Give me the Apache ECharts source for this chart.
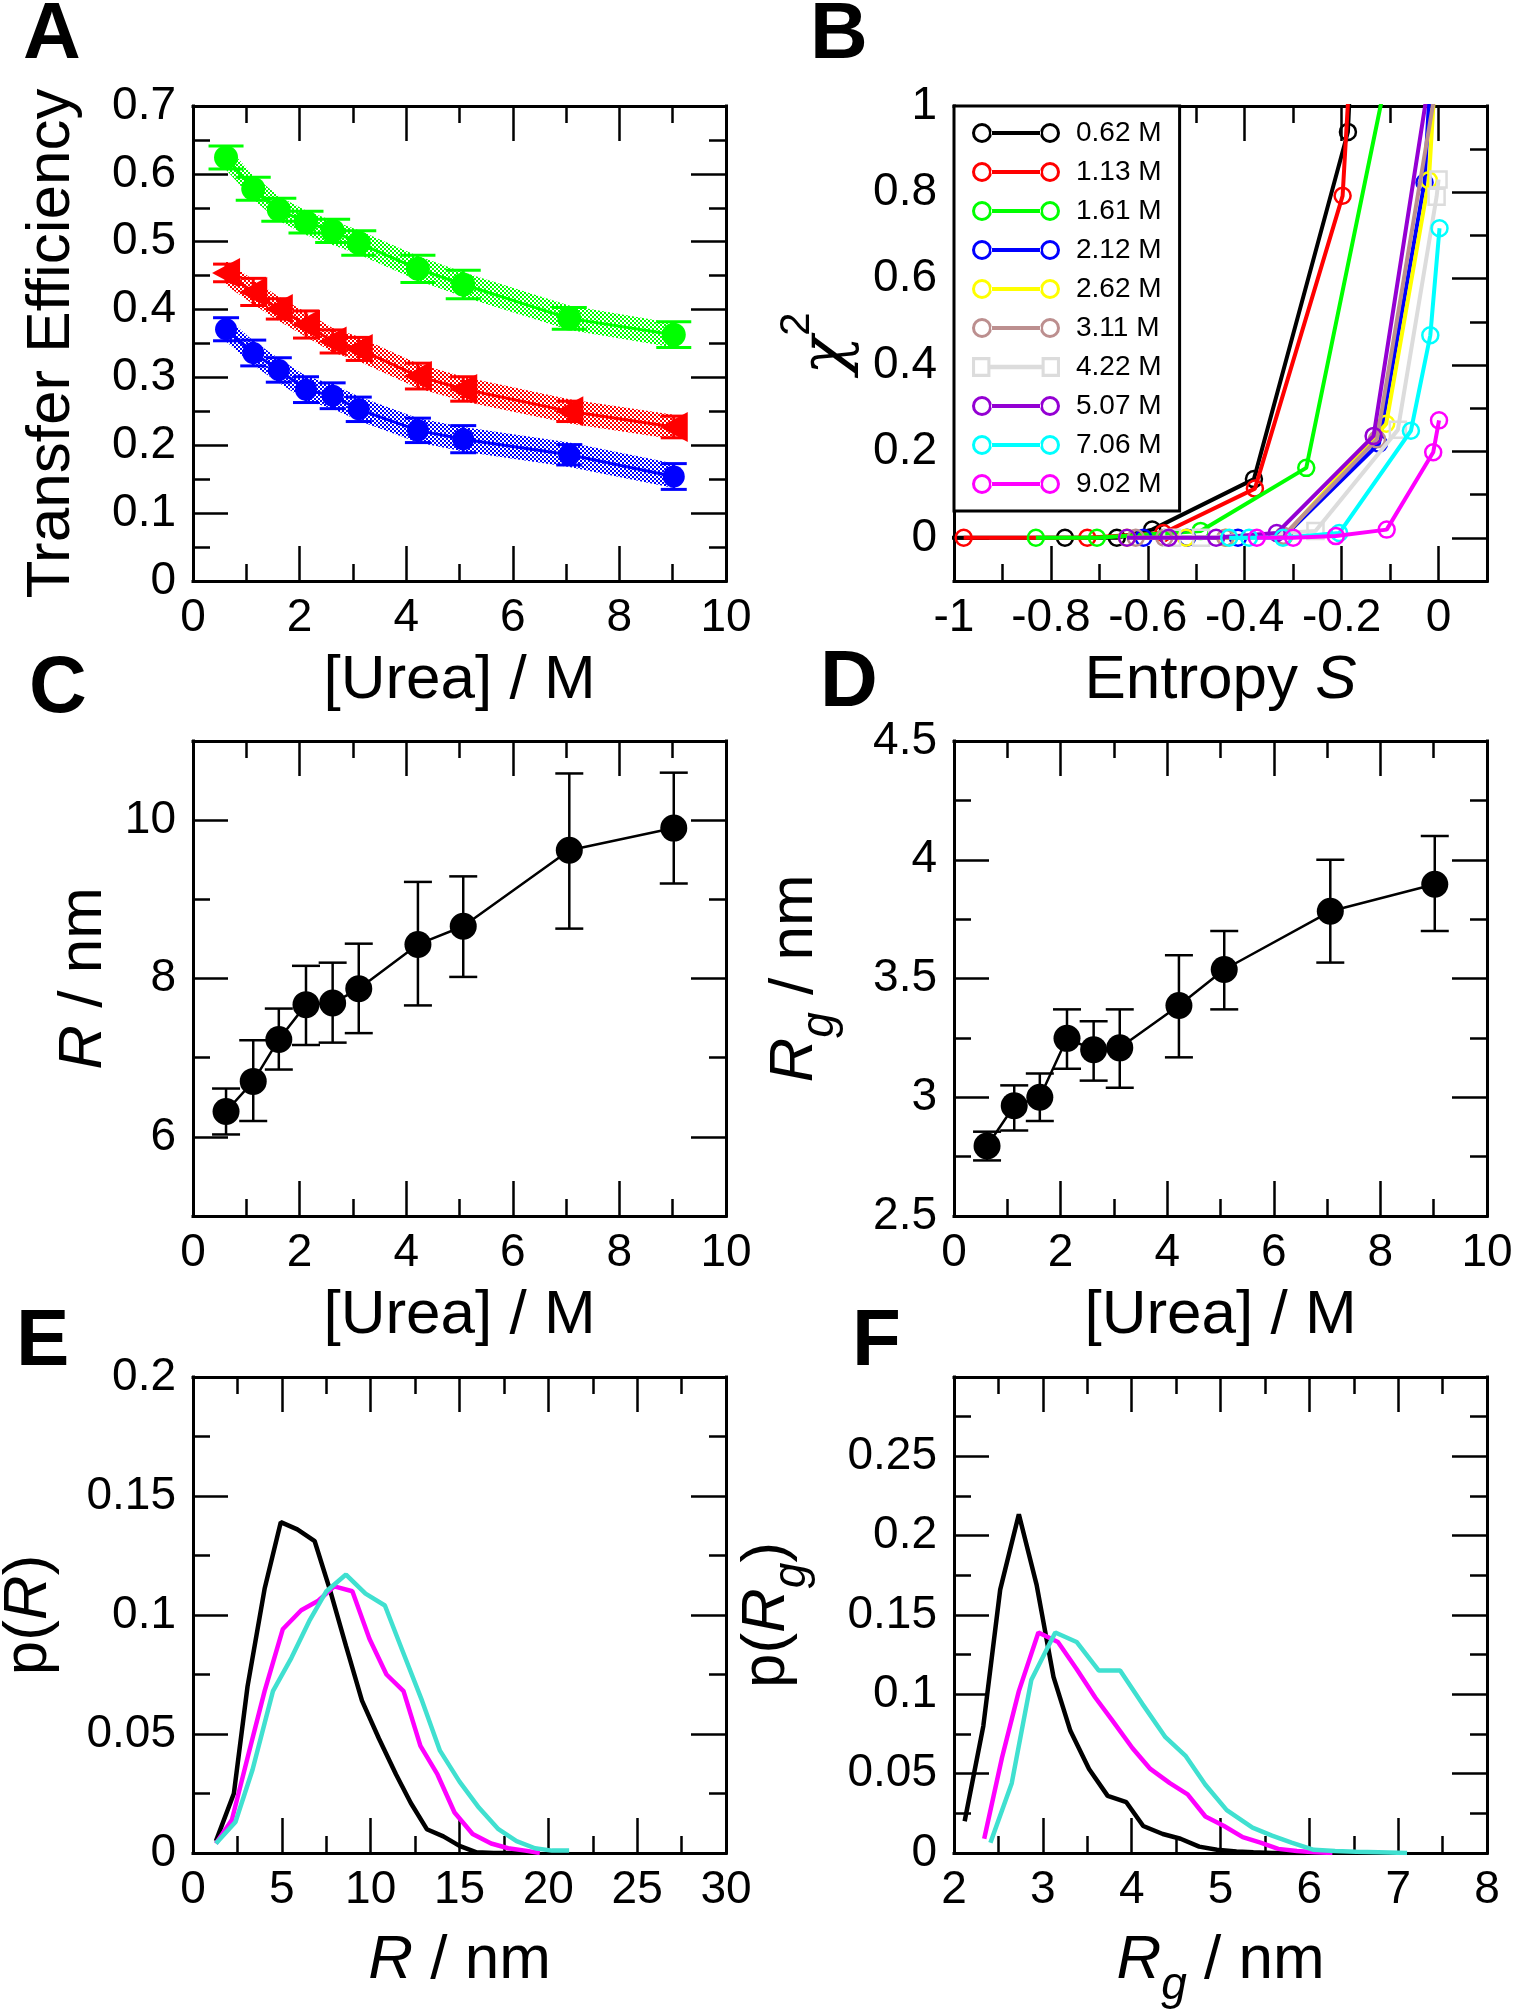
<!DOCTYPE html>
<html><head><meta charset="utf-8">
<script src="https://cdn.jsdelivr.net/npm/echarts@6.0.0/dist/echarts.min.js"></script>
<style>html,body{margin:0;padding:0;background:#fff}#c{width:1513px;height:2010px}</style>
</head><body><div id="c"></div>
<script>
// ---------------- DATA ----------------
const urea = [0.62, 1.13, 1.61, 2.12, 2.62, 3.11, 4.22, 5.07, 7.06, 9.02];

// Panel A: transfer efficiency
const aGreen    = [0.624, 0.578, 0.547, 0.529, 0.516, 0.498, 0.460, 0.437, 0.387, 0.363];
const aGreenErr = [0.017, 0.017, 0.017, 0.016, 0.017, 0.018, 0.020, 0.021, 0.016, 0.019];
const aGreenHi  = [0.642, 0.598, 0.567, 0.546, 0.531, 0.517, 0.479, 0.455, 0.406, 0.380];
const aGreenLo  = [0.606, 0.562, 0.531, 0.510, 0.495, 0.481, 0.443, 0.419, 0.370, 0.344];
const aRed      = [0.454, 0.426, 0.401, 0.378, 0.353, 0.342, 0.302, 0.283, 0.250, 0.227];
const aRedErr   = [0.013, 0.020, 0.015, 0.020, 0.017, 0.017, 0.019, 0.018, 0.015, 0.016];
const aRedHi    = [0.472, 0.444, 0.419, 0.396, 0.373, 0.360, 0.320, 0.301, 0.268, 0.245];
const aRedLo    = [0.436, 0.408, 0.383, 0.360, 0.337, 0.324, 0.284, 0.265, 0.232, 0.209];
const aBlue     = [0.371, 0.336, 0.311, 0.282, 0.273, 0.253, 0.222, 0.209, 0.186, 0.154];
const aBlueErr  = [0.017, 0.019, 0.018, 0.019, 0.019, 0.018, 0.018, 0.020, 0.015, 0.019];
const aBlueHi   = [0.389, 0.354, 0.328, 0.302, 0.290, 0.272, 0.240, 0.227, 0.204, 0.173];
const aBlueLo   = [0.353, 0.318, 0.292, 0.266, 0.254, 0.236, 0.204, 0.191, 0.168, 0.137];

// Panel B: chi^2 vs entropy S
const bNames  = ['0.62 M','1.13 M','1.61 M','2.12 M','2.62 M','3.11 M','4.22 M','5.07 M','7.06 M','9.02 M'];
const bColors = ['#000000','#ff0000','#00ff00','#0000ff','#ffff00','#bc8f8f','#dcdcdc','#9400d3','#00ffff','#ff00ff'];
const b062S = [-1.02, -0.771, -0.664, -0.591, -0.381, -0.187, -0.166];
const b062C = [0, 0, 0, 0.019, 0.136, 0.94, 1.45];
const b113S = [-0.98, -0.725, -0.568, -0.379, -0.198, -0.172];
const b113C = [0, 0, 0.011, 0.114, 0.792, 1.3];
const b161S = [-0.831, -0.705, -0.491, -0.273, -0.03];
const b161C = [0, 0, 0.016, 0.162, 1.49];
const b212S = [-0.609, -0.519, -0.414, -0.319, -0.123, -0.029, 0.0];
const b212C = [0, 0, 0, 0.003, 0.218, 0.823, 1.4];
const b262S = [-0.643, -0.521, -0.439, -0.32, -0.108, -0.02, 0.0];
const b262C = [0, 0, 0, 0.002, 0.264, 0.828, 1.2];
const b311S = [-0.625, -0.566, -0.44, -0.32, -0.127, 0.0];
const b311C = [0, 0, 0, 0.005, 0.228, 1.08];
const b422S = [-0.55, -0.49, -0.254, -0.084, -0.004, 0.0];
const b422C = [0, 0, 0.016, 0.25, 0.79, 0.83];
const b507S = [-0.643, -0.557, -0.459, -0.334, -0.134, 0.0];
const b507C = [0, 0, 0, 0.011, 0.236, 1.2];
const b706S = [-0.432, -0.391, -0.321, -0.205, -0.057, -0.017, 0.002];
const b706C = [0, 0, 0, 0.011, 0.248, 0.469, 0.717];
const b902S = [-0.375, -0.30, -0.212, -0.107, -0.011, 0.001];
const b902C = [0, 0, 0.004, 0.019, 0.198, 0.272];

// Panel C: R
const cR   = [6.32, 6.70, 7.23, 7.67, 7.69, 7.87, 8.43, 8.66, 9.62, 9.90];
const cRHi = [6.61, 7.22, 7.62, 8.16, 8.20, 8.44, 9.22, 9.29, 10.59, 10.60];
const cRLo = [6.03, 6.20, 6.85, 7.16, 7.19, 7.31, 7.66, 8.02, 8.63, 9.20];

// Panel D: Rg
const dRg   = [2.795, 2.964, 3.00, 3.248, 3.20, 3.208, 3.386, 3.538, 3.783, 3.897];
const dRgHi = [2.855, 3.05, 3.10, 3.37, 3.32, 3.37, 3.598, 3.70, 4.00, 4.10];
const dRgLo = [2.734, 2.86, 2.90, 3.12, 3.07, 3.04, 3.168, 3.37, 3.567, 3.70];

// Panel E: p(R)
const eBlackX = [1.29, 2.30, 3.07, 4.03, 4.94, 5.87, 6.85, 7.73, 8.61, 9.51, 10.47, 11.43, 12.26, 13.16, 14.09, 15.0, 15.96, 16.92, 17.74, 18.43];
const eBlackY = [0.005, 0.025, 0.070, 0.111, 0.139, 0.136, 0.131, 0.110, 0.087, 0.064, 0.048, 0.033, 0.021, 0.010, 0.007, 0.003, 0.0003, 0, 0, 0];
const eMagX = [1.29, 2.19, 3.07, 4.03, 5.05, 6.09, 7.05, 7.95, 8.97, 9.93, 10.89, 11.85, 12.8, 13.76, 14.72, 15.74, 16.78, 17.74, 18.7, 19.52];
const eMagY = [0.004, 0.014, 0.040, 0.068, 0.094, 0.102, 0.106, 0.112, 0.110, 0.090, 0.075, 0.068, 0.045, 0.033, 0.017, 0.008, 0.004, 0.002, 0.001, 0];
const eTurX = [1.29, 2.39, 3.35, 4.50, 5.54, 6.58, 7.51, 8.61, 9.71, 10.8, 11.79, 12.89, 13.9, 15.0, 16.1, 17.19, 18.21, 19.25, 20.21, 21.17];
const eTurY = [0.004, 0.013, 0.035, 0.068, 0.082, 0.098, 0.110, 0.117, 0.109, 0.104, 0.085, 0.064, 0.043, 0.030, 0.019, 0.010, 0.005, 0.002, 0.001, 0.001];

// Panel F: p(Rg)
const fBlackX = [2.12, 2.33, 2.52, 2.73, 2.93, 3.12, 3.31, 3.52, 3.73, 3.94, 4.13, 4.35, 4.55, 4.76, 4.96, 5.18, 5.37, 5.58, 5.77, 5.96];
const fBlackY = [0.020, 0.080, 0.166, 0.2135, 0.169, 0.111, 0.077, 0.053, 0.036, 0.032, 0.017, 0.012, 0.009, 0.004, 0.002, 0.001, 0.0005, 0, 0, 0];
const fMagX = [2.34, 2.54, 2.73, 2.95, 3.17, 3.38, 3.59, 3.79, 4.01, 4.21, 4.43, 4.63, 4.83, 5.04, 5.25, 5.45, 5.65, 5.86, 6.07, 6.26];
const fMagY = [0.009, 0.060, 0.102, 0.139, 0.133, 0.116, 0.098, 0.083, 0.066, 0.053, 0.044, 0.037, 0.023, 0.017, 0.010, 0.0065, 0.0026, 0.0013, 0.0005, 0];
const fTurX = [2.41, 2.65, 2.87, 3.14, 3.38, 3.63, 3.87, 4.12, 4.38, 4.61, 4.83, 5.07, 5.36, 5.58, 5.80, 6.05, 6.29, 6.53, 6.78, 7.10];
const fTurY = [0.0065, 0.044, 0.109, 0.139, 0.133, 0.115, 0.115, 0.094, 0.073, 0.061, 0.043, 0.027, 0.016, 0.011, 0.0065, 0.002, 0.0013, 0.0008, 0.0005, 0];

// Tick values
const aXMajor = [0, 2, 4, 6, 8, 10], aXMinor = [1, 3, 5, 7, 9];
const aYMajor = [0, 0.1, 0.2, 0.3, 0.4, 0.5, 0.6, 0.7], aYMinor = [0.05, 0.15, 0.25, 0.35, 0.45, 0.55, 0.65];
const bXMajor = [-1, -0.8, -0.6, -0.4, -0.2, 0], bXMinor = [-0.9, -0.7, -0.5, -0.3, -0.1];
const bYMajor = [0, 0.2, 0.4, 0.6, 0.8, 1], bYMinor = [0.1, 0.3, 0.5, 0.7, 0.9];
const cYMajor = [6, 8, 10], cYMinor = [7, 9];
const dYMajor = [2.5, 3, 3.5, 4, 4.5], dYMinor = [2.75, 3.25, 3.75, 4.25];
const eXMajor = [0, 5, 10, 15, 20, 25, 30], eXMinor = [2.5, 7.5, 12.5, 17.5, 22.5, 27.5];
const eYMajor = [0, 0.05, 0.1, 0.15, 0.2], eYMinor = [0.025, 0.075, 0.125, 0.175];
const fXMajor = [2, 3, 4, 5, 6, 7, 8], fXMinor = [2.5, 3.5, 4.5, 5.5, 6.5, 7.5];
const fYMajor = [0, 0.05, 0.1, 0.15, 0.2, 0.25], fYMinor = [0.025, 0.075, 0.125, 0.175, 0.225, 0.275];

// ---------------- STYLE / HELPERS ----------------
const FONT = "'Liberation Sans', Arial, Helvetica, sans-serif";
const SERIF = "'DejaVu Serif', 'Liberation Serif', serif";
const TICK_FS = 46, NAME_FS = 62;
const GREEN = '#00ff00', RED = '#ff0000', BLUE = '#0000ff';
const MAJ = 35, MIN = 17;

const RICH = {
  n: {fontSize: NAME_FS, fontFamily: FONT, color: '#000', verticalAlign: 'top'},
  i: {fontSize: NAME_FS, fontFamily: FONT, color: '#000', fontStyle: 'italic', verticalAlign: 'top'},
  g: {fontSize: 46, fontFamily: FONT, color: '#000', fontStyle: 'italic', verticalAlign: 'top', padding: [33, 0, 0, 0]},
  c: {fontSize: 64, fontFamily: SERIF, fontStyle: 'italic', color: '#000', verticalAlign: 'top', padding: [20, 0, 0, 0]},
  s: {fontSize: 42, fontFamily: FONT, color: '#000', verticalAlign: 'top'}
};

const grids = [];
const xAxes = [], yAxes = [];
function fmt(v) { return String(+(+v).toFixed(4)); }

function addAxes(dim, gridIndex, cfg) {
  const list = dim === 'x' ? xAxes : yAxes;
  const sides = dim === 'x' ? ['bottom', 'top'] : ['left', 'right'];
  const first = list.length;
  const common = {type: 'value', gridIndex, min: cfg.min, max: cfg.max,
    splitLine: {show: false}, splitArea: {show: false}, minorTick: {show: false},
    minorSplitLine: {show: false}, axisPointer: {show: false}, silent: true, nameMoveOverlap: false};
  sides.forEach((side, s) => {
    const major = Object.assign({}, common, {
      position: side,
      axisLine: {show: true, onZero: false, lineStyle: {color: '#000', width: 3, cap: 'square'}},
      axisTick: {show: true, inside: true, length: MAJ, customValues: cfg.major, lineStyle: {color: '#000', width: 2.5}},
      axisLabel: s === 0 ? {show: true, customValues: cfg.labels || cfg.major, margin: dim === 'x' ? 14 : 17,
        fontSize: TICK_FS, fontFamily: FONT, color: '#000', formatter: fmt} : {show: false}
    });
    if (s === 0 && cfg.name) {
      Object.assign(major, {name: cfg.name, nameLocation: 'middle', nameGap: cfg.nameGap,
        nameRotate: dim === 'y' ? 90 : 0,
        nameTextStyle: {fontSize: NAME_FS, fontFamily: FONT, color: '#000', rich: RICH}});
    }
    list.push(major);
    list.push(Object.assign({}, common, {
      position: side,
      axisLine: {show: false, onZero: false},
      axisTick: {show: true, inside: true, length: MIN, customValues: cfg.minor, lineStyle: {color: '#000', width: 2.5}},
      axisLabel: {show: false}
    }));
  });
  return first;
}

function hatch(color) {
  const c = document.createElement('canvas');
  c.width = 4; c.height = 4;
  const g = c.getContext('2d');
  g.fillStyle = color;
  g.fillRect(0, 0, 2, 2); g.fillRect(2, 2, 2, 2);
  return {image: c, repeat: 'repeat'};
}
function pairs(xs, ys) { return xs.map((x, i) => [x, ys[i]]); }

function bandSeries(xi, yi, xs, lo, hi, color) {
  return {type: 'custom', xAxisIndex: xi, yAxisIndex: yi, z: 1, silent: true,
    data: xs.map((x, i) => [x, lo[i], hi[i]]),
    renderItem: function (params, api) {
      if (params.dataIndex !== 0) return null;
      const pts = [];
      for (let i = 0; i < xs.length; i++) pts.push(api.coord([xs[i], hi[i]]));
      for (let i = xs.length - 1; i >= 0; i--) pts.push(api.coord([xs[i], lo[i]]));
      return {type: 'polygon', shape: {points: pts}, style: {fill: hatch(color)}};
    }};
}
function errSeries(xi, yi, xs, lo, hi, color, cap, lw) {
  return {type: 'custom', xAxisIndex: xi, yAxisIndex: yi, z: 3, silent: true,
    data: xs.map((x, i) => [x, lo[i], hi[i]]),
    encode: {x: 0, y: [1, 2]},
    renderItem: function (params, api) {
      const x = api.value(0);
      const a = api.coord([x, api.value(1)]), b = api.coord([x, api.value(2)]);
      const st = {stroke: color, lineWidth: lw};
      return {type: 'group', children: [
        {type: 'line', shape: {x1: a[0], y1: a[1], x2: b[0], y2: b[1]}, style: st},
        {type: 'line', shape: {x1: a[0] - cap / 2, y1: a[1], x2: a[0] + cap / 2, y2: a[1]}, style: st},
        {type: 'line', shape: {x1: b[0] - cap / 2, y1: b[1], x2: b[0] + cap / 2, y2: b[1]}, style: st}
      ]};
    }};
}

// ---------------- GRIDS & AXES ----------------
const GL = 193, GR = 954, GW = 533, GH = 475;
grids.push({left: GL, top: 106, width: GW, height: GH});   // A
grids.push({left: GR, top: 106, width: GW, height: GH});   // B
grids.push({left: GL, top: 741, width: GW, height: GH});   // C
grids.push({left: GR, top: 741, width: GW, height: GH});   // D
grids.push({left: GL, top: 1377, width: GW, height: 476}); // E
grids.push({left: GR, top: 1377, width: GW, height: 476}); // F
grids.forEach(g => { g.containLabel = false; g.outerBoundsMode = 'none'; g.show = false; });

const axA = addAxes('x', 0, {min: 0, max: 10, major: aXMajor, minor: aXMinor, name: '[Urea] / M', nameGap: 69});
const ayA = addAxes('y', 0, {min: 0, max: 0.7, major: aYMajor, minor: aYMinor, name: 'Transfer Efficiency', nameGap: 110});
const axB = addAxes('x', 1, {min: -1, max: 0.1, major: bXMajor, minor: bXMinor, name: '{n|Entropy }{i|S}', nameGap: 69});
const ayB = addAxes('y', 1, {min: -0.1, max: 1, major: bYMajor, minor: bYMinor, name: '{c|χ}{s|2}', nameGap: 94});
const axC = addAxes('x', 2, {min: 0, max: 10, major: aXMajor, minor: aXMinor, name: '[Urea] / M', nameGap: 69});
const ayC = addAxes('y', 2, {min: 5, max: 11, major: cYMajor, minor: cYMinor, name: '{i|R}{n| / nm}', nameGap: 78});
const axD = addAxes('x', 3, {min: 0, max: 10, major: aXMajor, minor: aXMinor, name: '[Urea] / M', nameGap: 69});
const ayD = addAxes('y', 3, {min: 2.5, max: 4.5, major: dYMajor, minor: dYMinor, name: '{i|R}{g|g}{n| / nm}', nameGap: 111});
const axE = addAxes('x', 4, {min: 0, max: 30, major: eXMajor, minor: eXMinor, name: '{i|R}{n| / nm}', nameGap: 77});
const ayE = addAxes('y', 4, {min: 0, max: 0.2, major: eYMajor, minor: eYMinor, name: '{n|p(}{i|R}{n|)}', nameGap: 133});
const axF = addAxes('x', 5, {min: 2, max: 8, major: fXMajor, minor: fXMinor, name: '{i|R}{g|g}{n| / nm}', nameGap: 77});
const ayF = addAxes('y', 5, {min: 0, max: 0.3, major: fYMajor, minor: fYMinor, name: '{n|p(}{i|R}{g|g}{n|)}', nameGap: 139});

// ---------------- SERIES ----------------
const series = [];
// A
series.push(bandSeries(axA, ayA, urea, aGreenLo, aGreenHi, GREEN));
series.push(bandSeries(axA, ayA, urea, aRedLo, aRedHi, RED));
series.push(bandSeries(axA, ayA, urea, aBlueLo, aBlueHi, BLUE));
[[aGreen, aGreenErr, GREEN, 'circle', 24, 0, 35], [aRed, aRedErr, RED, 'triangle', [30, 28], 90, 26], [aBlue, aBlueErr, BLUE, 'circle', 22, 0, 26]].forEach(s => {
  const [vals, err, col, sym, size, rot, cap] = s;
  series.push(errSeries(axA, ayA, urea, vals.map((v, i) => v - err[i]), vals.map((v, i) => v + err[i]), col, cap, 3));
  series.push({type: 'line', xAxisIndex: axA, yAxisIndex: ayA, data: pairs(urea, vals), z: 4,
    symbol: sym, symbolSize: size, symbolRotate: rot, showAllSymbol: true,
    itemStyle: {color: col}, lineStyle: {color: col, width: 3}});
});

// B
const bS = [b062S, b113S, b161S, b212S, b262S, b311S, b422S, b507S, b706S, b902S];
const bC = [b062C, b113C, b161C, b212C, b262C, b311C, b422C, b507C, b706C, b902C];
bNames.forEach((nm, i) => {
  series.push({type: 'line', name: nm, xAxisIndex: axB, yAxisIndex: ayB, data: pairs(bS[i], bC[i]), z: 3 + i * 0.01,
    symbol: i === 6 ? 'rect' : 'circle', symbolSize: 16, showAllSymbol: true,
    itemStyle: {color: 'rgba(255,255,255,0)', borderColor: bColors[i], borderWidth: 2.5},
    lineStyle: {color: bColors[i], width: 4}});
});

// C, D
series.push(errSeries(axC, ayC, urea, cRLo, cRHi, '#000', 28, 2.5));
series.push({type: 'line', xAxisIndex: axC, yAxisIndex: ayC, data: pairs(urea, cR), z: 4,
  symbol: 'circle', symbolSize: 27, itemStyle: {color: '#000'}, lineStyle: {color: '#000', width: 2.5}});
series.push(errSeries(axD, ayD, urea, dRgLo, dRgHi, '#000', 28, 2.5));
series.push({type: 'line', xAxisIndex: axD, yAxisIndex: ayD, data: pairs(urea, dRg), z: 4,
  symbol: 'circle', symbolSize: 27, itemStyle: {color: '#000'}, lineStyle: {color: '#000', width: 2.5}});

// E, F
[[eBlackX, eBlackY, '#000000'], [eMagX, eMagY, '#ff00ff'], [eTurX, eTurY, '#40e0d0']].forEach(s => {
  series.push({type: 'line', xAxisIndex: axE, yAxisIndex: ayE, data: pairs(s[0], s[1]), symbol: 'none',
    lineStyle: {color: s[2], width: 4.5}, itemStyle: {color: s[2]}});
});
[[fBlackX, fBlackY, '#000000'], [fMagX, fMagY, '#ff00ff'], [fTurX, fTurY, '#40e0d0']].forEach(s => {
  series.push({type: 'line', xAxisIndex: axF, yAxisIndex: ayF, data: pairs(s[0], s[1]), symbol: 'none',
    lineStyle: {color: s[2], width: 4.5}, itemStyle: {color: s[2]}});
});

// Legend icons (line with open markers at both ends)
const RING_ICON = 'path://M0,10A10,10 0 1,0 20,10A10,10 0 1,0 0,10Z M3,10A7,7 0 1,1 17,10A7,7 0 1,1 3,10Z ' +
  'M68,10A10,10 0 1,0 88,10A10,10 0 1,0 68,10Z M71,10A7,7 0 1,1 85,10A7,7 0 1,1 71,10Z M19,8L69,8L69,12L19,12Z';
const SQ_ICON = 'path://M1,1L19,1L19,19L1,19Z M4,4L4,16L16,16L16,4Z M69,1L87,1L87,19L69,19Z M72,4L72,16L84,16L84,4Z M18,8L70,8L70,12L18,12Z';

const letters = [['A', 23, 36], ['B', 810, 36], ['C', 29, 690], ['D', 820, 684], ['E', 16, 1343], ['F', 852, 1343]];

const option = {
  animation: false,
  backgroundColor: '#fff',
  textStyle: {fontFamily: FONT},
  grid: grids,
  xAxis: xAxes,
  yAxis: yAxes,
  legend: {
    show: true, orient: 'vertical', left: 954, top: 106, padding: [12, 18, 12, 18], itemGap: 9,
    itemWidth: 88, itemHeight: 20, symbolKeepAspect: false, selectedMode: false,
    backgroundColor: '#fff', borderColor: '#000', borderWidth: 3, borderRadius: 0,
    textStyle: {fontSize: 28, fontFamily: FONT, color: '#000', lineHeight: 30, padding: [0, 0, 0, 11]},
    itemStyle: {borderWidth: 0},
    data: bNames.map((n, i) => ({name: n, icon: i === 6 ? SQ_ICON : RING_ICON,
      itemStyle: {color: bColors[i], borderWidth: 0}}))
  },
  graphic: {elements: letters.map(l => ({type: 'text', x: l[1], y: l[2], z: 100,
    style: {text: l[0], font: 'bold 80px ' + FONT, fill: '#000', align: 'left', verticalAlign: 'middle'}}))},
  series: series
};

const chart = echarts.init(document.getElementById('c'), null, {renderer: 'canvas', width: 1513, height: 2010});
chart.setOption(option);
</script></body></html>
